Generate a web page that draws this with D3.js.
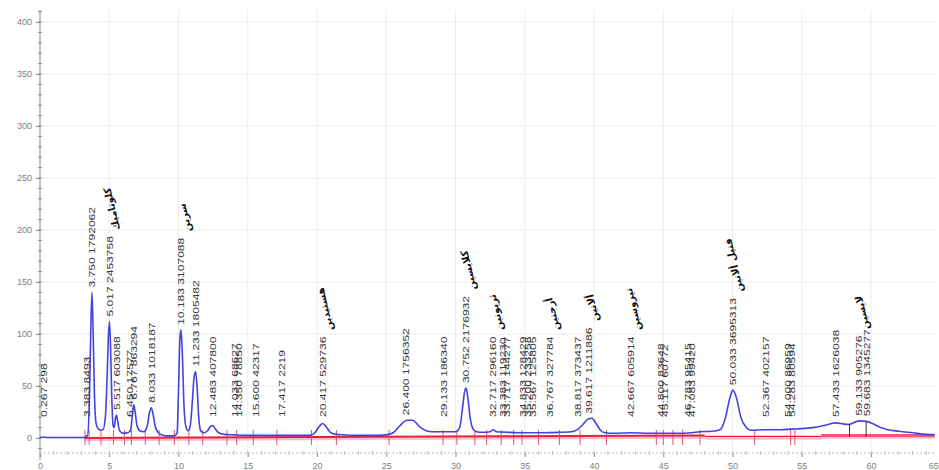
<!DOCTYPE html>
<html>
<head>
<meta charset="utf-8">
<script src="https://cdn.jsdelivr.net/npm/d3@7"></script>
<style>
body { margin: 0; background: #fff; }
svg { display: block; font-family: "Liberation Sans", Arial, sans-serif; }
.grid line { stroke: #ececec; stroke-width: 1; }
.axis text { fill: #808080; font-size: 9px; }
.axis line, .axis path { stroke: #8c8c8c; }
.peak-label { fill: #3a3a3a; font-size: 9.5px; }
.name-label { fill: #111; font-size: 10px; font-weight: bold; font-family: "DejaVu Sans", sans-serif; }
</style>
</head>
<body>
<svg id="chart" width="939" height="470"></svg>
<script>
var peakTimes = [0.267, 3.383, 3.750, 5.017, 5.517, 6.450, 6.767, 8.033, 10.183, 11.233,
    12.483, 14.033, 14.350, 15.600, 17.417, 20.417, 26.400, 29.133, 30.752, 32.717,
    33.383, 33.717, 34.833, 35.200, 35.567, 36.767, 38.817, 39.617, 42.667, 44.800,
    45.117, 46.783, 47.083, 50.033, 52.367, 54.000, 54.283, 57.433, 59.133, 59.683];
var peakAreas = [298, 8493, 1792062, 2453758, 603088, 17577, 863294, 1018187, 3107088, 1805482,
    407800, 68627, 78850, 42317, 2219, 529736, 1756352, 186340, 2176932, 296160,
    119230, 144277, 128429, 233258, 125805, 327784, 373437, 1211886, 605914, 83648,
    60772, 95415, 99420, 3695313, 402157, 86959, 80594, 1626038, 905276, 1345277];
var peakHeights = [1, 2, 140, 112, 22, 6, 32, 29, 104, 64,
    12, 3, 3, 2.5, 2.5, 14, 17, 6, 48, 8,
    5.5, 5.5, 5, 5, 5, 5.5, 8, 18.5, 5, 4.5,
    4.5, 4.5, 5, 46, 8, 8.5, 8.5, 14.5, 16.5, 16];
var nameTimes = [5.017, 10.183, 20.417, 30.752, 32.717, 36.767, 39.617, 42.667, 50.033, 59.133];
var nameLabels = ['كلوتاميك', 'سرين', 'هستيدين', 'كلايسين', 'ثريونين', 'أرجنين', 'ألانين',
    'تيروسين', 'فنيل ألانين', 'لايسين'];

// detector trace (time, mV)
var traceTime = [0, 0.267, 0.5, 3.2, 3.383, 3.45, 3.57, 3.66, 3.75, 3.84, 3.93, 4.05, 4.2, 4.35,
    4.55, 4.72, 4.85, 4.93, 5.017, 5.10, 5.18, 5.28, 5.35, 5.45, 5.52, 5.6, 5.72, 5.9, 6.1,
    6.3, 6.45, 6.55, 6.67, 6.77, 6.87, 7.0, 7.2, 7.5, 7.75, 7.9, 8.03, 8.15, 8.32, 8.55, 8.8,
    9.2, 9.7, 9.9, 10.0, 10.1, 10.18, 10.28, 10.4, 10.55, 10.7, 10.85, 11.0, 11.12, 11.23,
    11.33, 11.45, 11.6, 11.8, 12.1, 12.3, 12.48, 12.65, 12.9, 13.3, 14.0, 15.0, 16.5, 18.5,
    19.5, 19.85, 20.1, 20.4, 20.7, 21.0, 21.4, 22, 23, 24, 25, 25.5, 26.0, 26.5, 26.9, 27.4,
    27.9, 28.3, 29.1, 30.0, 30.3, 30.5, 30.65, 30.76, 30.9, 31.05, 31.25, 31.5, 32.0, 32.5,
    32.72, 32.95, 33.7, 34.8, 36.0, 37.5, 38.4, 38.8, 39.2, 39.6, 39.85, 40.15, 40.5, 40.8,
    41.5, 42.67, 44, 46, 47, 47.65, 48.5, 49.1, 49.5, 49.8, 50.03, 50.3, 50.6, 51.0, 51.3,
    52.37, 53.5, 54.2, 55.0, 55.8, 56.6, 57.43, 58.0, 58.4, 58.8, 59.13, 59.68, 60.1, 60.7,
    61.2, 62.0, 63.0, 64.0, 64.6];
var traceSignal = [0.5, 1, 0.5, 0.5, 2, 2, 40, 100, 140, 100, 42, 14, 9, 7.7,
    8, 20, 60, 95, 112, 85, 40, 12, 10, 19, 22, 17, 8, 5, 4.5,
    5, 6, 8, 22, 32, 25, 12, 7, 6, 12, 24, 29, 24, 11, 5, 3,
    2, 2, 5, 45, 95, 104, 80, 30, 10, 7, 12, 35, 58, 64,
    52, 22, 7, 5, 7, 11, 12, 9, 5, 3.5, 3, 2.5, 2.5, 2.5,
    2.5, 5, 10, 14, 10, 5, 3.5, 3, 2.5, 2.5, 3, 5, 12, 17, 17, 11,
    7, 6, 6, 6, 10, 28, 44, 48, 38, 20, 9, 6, 5.5, 6,
    8, 6, 5.5, 5, 5, 5.5, 6, 8, 13, 18.5, 19, 14, 7, 5,
    4.5, 5, 4.5, 4.5, 5, 6, 6.5, 8, 20, 38, 46, 38, 20, 10, 7.5,
    8, 8, 8.5, 9, 10, 12, 14.5, 13.5, 13, 15, 16.5, 16, 14, 10,
    8, 6.5, 5, 3.5, 3];

// integration baseline segments and peak boundary marks
var baseStartTime = [3.2, 48.0, 56.4];
var baseEndTime = [48.0, 56.4, 64.6];
var baseStartValue = [0, 1.5, 2.5];
var baseEndValue = [2.5, 1.5, 2.5];
var boundaryTimes = [3.25, 3.55, 4.4, 5.3, 6.1, 6.6, 7.6, 8.6, 9.7, 10.75, 11.75, 13.5, 14.2,
    15.4, 17.1, 19.6, 21.4, 25.2, 29.1, 30.1, 31.4, 32.25, 33.3, 34.2, 34.8, 36.0, 37.5, 39.0,
    40.9, 44.5, 45.0, 45.7, 46.4, 47.65, 51.6, 54.2, 54.5];
var dropTimes = [58.45, 59.65];

var xTicks = [0, 5, 10, 15, 20, 25, 30, 35, 40, 45, 50, 55, 60, 65];
var yTicks = [0, 50, 100, 150, 200, 250, 300, 350, 400];

var svg = d3.select('#chart');
var x = d3.scaleLinear().domain([0, 65]).range([40, 940.25]);
var y = d3.scaleLinear().domain([0, 400]).range([438, 22]);
var axisY = y(-14.4);

// grid
var grid = svg.append('g').attr('class', 'grid');
grid.selectAll('line.h').data(yTicks).join('line')
    .attr('class', 'h')
    .attr('x1', 40).attr('x2', 935)
    .attr('y1', function(d) {return y(d);}).attr('y2', function(d) {return y(d);});
grid.selectAll('line.v').data(xTicks.slice(1)).join('line')
    .attr('class', 'v')
    .attr('x1', function(d) {return x(d);}).attr('x2', function(d) {return x(d);})
    .attr('y1', 10).attr('y2', axisY);

// y axis with minor ticks
var yAxis = svg.append('g').attr('class', 'axis').attr('transform', 'translate(40,0)');
yAxis.append('line').attr('x1', 0).attr('x2', 0).attr('y1', 10).attr('y2', 460);
yAxis.call(d3.axisLeft(y).tickValues(yTicks).tickSize(4).tickPadding(4));
yAxis.select('.domain').remove();
var yMinor = d3.range(-10, 411, 10);
yAxis.selectAll('line.minor').data(yMinor).join('line')
    .attr('class', 'minor')
    .attr('x1', -2).attr('x2', 2)
    .attr('y1', function(d) {return y(d);}).attr('y2', function(d) {return y(d);});

// x axis, dotted, with minor ticks
var xAxis = svg.append('g').attr('class', 'axis').attr('transform', 'translate(0,' + axisY + ')');
xAxis.call(d3.axisBottom(x).tickValues(xTicks).tickSize(4).tickPadding(6));
xAxis.select('.domain').remove();
// the last label sits on the right edge; keep it inside the frame
xAxis.selectAll('.tick text').filter(function(d) {return d === 65;})
    .attr('text-anchor', 'end').attr('dx', '-2px');
xAxis.append('line').attr('x1', 40).attr('x2', 935).attr('y1', 0).attr('y2', 0)
    .style('stroke', '#b7c4b8').style('stroke-dasharray', '2,2');
xAxis.selectAll('line.minor').data(d3.range(0, 65, 1)).join('line')
    .attr('class', 'minor')
    .attr('x1', function(d) {return x(d);}).attr('x2', function(d) {return x(d);})
    .attr('y1', -2).attr('y2', 2)
    .style('stroke', '#c9b8c0');

// baseline
var segments = d3.range(baseStartTime.length).map(function(i) {
    return [[baseStartTime[i], baseStartValue[i]], [baseEndTime[i], baseEndValue[i]]];
});
var baseWidths = [2, 1.2, 3];
var baseColors = ['#e81e36', '#e81e36', '#f0557a'];
var segLine = d3.line().x(function(d) {return x(d[0]);}).y(function(d) {return y(d[1]);});
svg.append('g').selectAll('path.halo').data(segments).join('path')
    .attr('d', segLine)
    .attr('transform', 'translate(0,2)')
    .style('fill', 'none').style('stroke', '#f8c0cb').style('stroke-width', 2.5);
svg.append('g').selectAll('path').data(segments).join('path')
    .attr('d', segLine)
    .style('fill', 'none')
    .style('stroke', function(d, i) {return baseColors[i];})
    .style('stroke-width', function(d, i) {return baseWidths[i];});

// boundary marks
svg.append('g').selectAll('line').data(boundaryTimes).join('line')
    .attr('x1', function(d) {return x(d);}).attr('x2', function(d) {return x(d);})
    .attr('y1', y(1) - 7).attr('y2', y(1) + 8)
    .style('stroke', '#e0435a').style('stroke-width', 0.9);

// trace
var tracePts = d3.zip(traceTime, traceSignal);
var lineFunction = d3.line()
    .curve(d3.curveMonotoneX)
    .x(function(d) {return x(d[0]);})
    .y(function(d) {return y(d[1]);});
svg.append('path')
    .attr('d', lineFunction(tracePts))
    .style('fill', 'none').style('stroke', '#4343df').style('stroke-width', 1.6);

// drop lines between fused peaks
function signalAt(t) {
    var i = d3.bisectLeft(traceTime, t);
    var t0 = traceTime[i-1], t1 = traceTime[i];
    return traceSignal[i-1] + (traceSignal[i] - traceSignal[i-1]) * (t - t0) / (t1 - t0);
}
svg.append('g').selectAll('line').data(dropTimes).join('line')
    .attr('x1', function(d) {return x(d);}).attr('x2', function(d) {return x(d);})
    .attr('y1', function(d) {return y(signalAt(d));}).attr('y2', y(1))
    .style('stroke', '#333').style('stroke-width', 1);

// peak labels
var labelEnd = {};
var labels = svg.append('g');
peakTimes.forEach(function(t, i) {
    var px = x(t);
    var py = Math.min(y(peakHeights[i]) - 5, 417);
    var txt = labels.append('text')
        .attr('class', 'peak-label')
        .attr('transform', 'translate(' + px + ',' + py + ') rotate(-90) scale(1.27,1)')
        .attr('dy', '0.35em')
        .text(t.toFixed(3) + ' ' + peakAreas[i]);
    labelEnd[t] = py - txt.node().getComputedTextLength() * 1.27;
});

// amino acid names above their peak labels
nameTimes.forEach(function(t, i) {
    var px = x(t) + 7;
    var py = labelEnd[t] - 6;
    labels.append('text')
        .attr('class', 'name-label')
        .attr('transform', 'translate(' + px + ',' + py + ') rotate(-103)')
        .attr('dy', '0.35em')
        .text(nameLabels[i]);
});
</script>
</body>
</html>
